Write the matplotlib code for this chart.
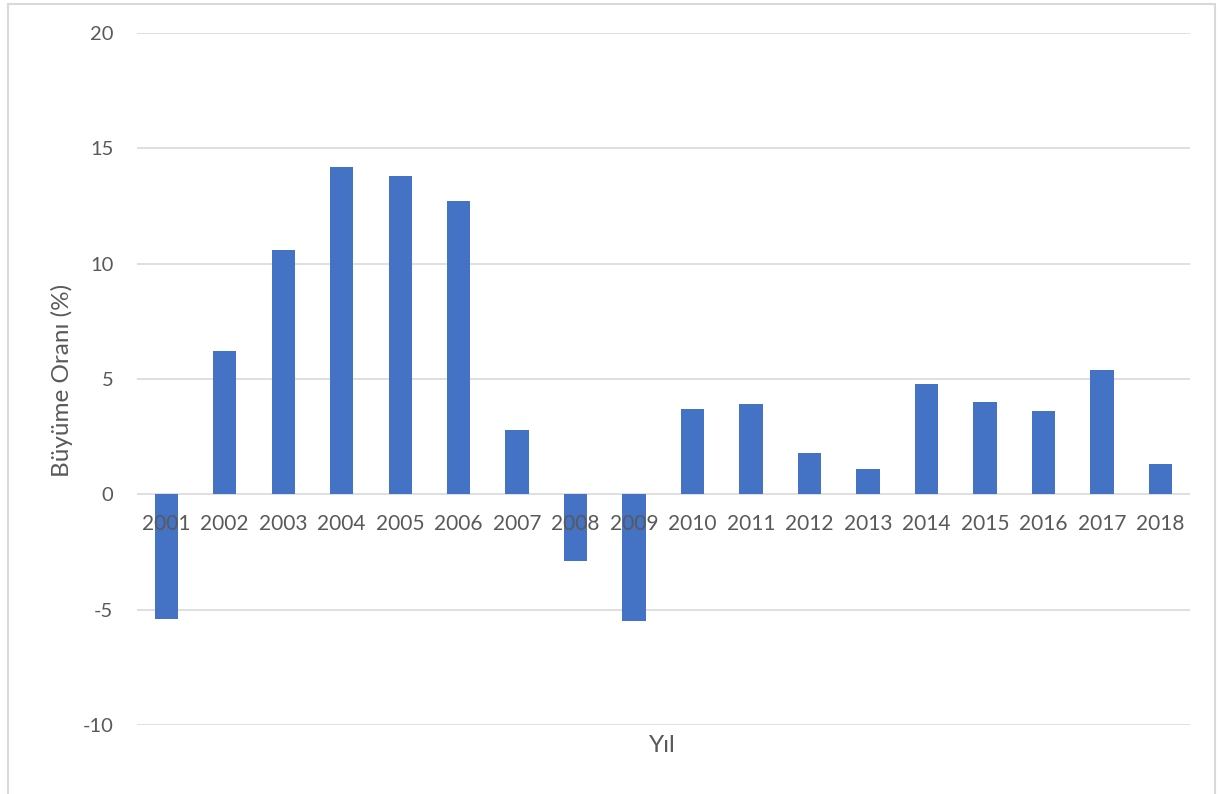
import matplotlib.pyplot as plt
import matplotlib.patches as patches
import numpy as np

plt.rcParams['font.family'] = ['Lato', 'DejaVu Sans']

years = ["2001", "2002", "2003", "2004", "2005", "2006", "2007", "2008", "2009",
         "2010", "2011", "2012", "2013", "2014", "2015", "2016", "2017", "2018"]
growth = [-5.4, 6.2, 10.6, 14.2, 13.8, 12.7, 2.8, -2.9, -5.5,
          3.7, 3.9, 1.8, 1.1, 4.8, 4.0, 3.6, 5.4, 1.3]
yticks = [-10, -5, 0, 5, 10, 15, 20]

grey = "#595959"

fig = plt.figure(figsize=(12.19, 7.94), dpi=100)
ax = fig.add_axes([0.1124, 0.0869, 0.8636, 0.8715])

x = np.arange(len(years))
ax.bar(x, growth, width=0.40, color="#4472C4", zorder=3)

ax.set_ylim(-10, 20)
ax.set_xlim(-0.5, len(years) - 0.5)
ax.set_yticks(yticks)
ax.set_yticklabels([str(t) for t in yticks], fontsize=14.5, color=grey)
ax.yaxis.grid(True, color="#D9D9D9", linewidth=1.2, zorder=0)
ax.tick_params(axis="y", length=0, pad=17)
ax.set_xticks([])
for s in ax.spines.values():
    s.set_visible(False)

# year labels just under the zero line, drawn over the bars like Excel
for xi, lab in zip(x, years):
    ax.text(xi, -1.3, lab, ha="center", va="center", fontsize=15,
            color=grey, zorder=4)

fig.text(62 / 1219, 1 - 380 / 794, "Büyüme Oranı (%)", rotation=90,
         ha="center", va="center", fontsize=17.5, color=grey)
fig.text(662 / 1219, 1 - 746 / 794, "Yıl", ha="center", va="center",
         fontsize=17.5, color=grey)

# outer chart border
fig.patches.append(patches.Rectangle((8 / 1219, -0.01), 1207 / 1219, 1 - 4 / 794 + 0.01,
                                     transform=fig.transFigure, fill=False,
                                     edgecolor="#D9D9D9", linewidth=1.5))

fig.savefig("out.png", dpi=100)
